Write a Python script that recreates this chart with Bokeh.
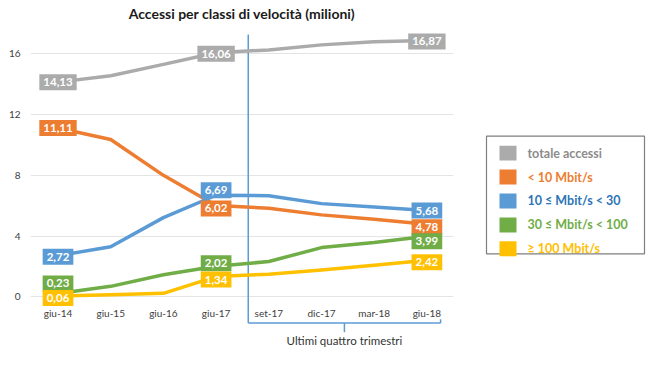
from bokeh.plotting import figure
from bokeh.models import Range1d, FixedTicker, ColumnDataSource
from bokeh.layouts import row
from bokeh.core.properties import value
from bokeh.embed import file_html
from bokeh.resources import INLINE

# ---------------- data ----------------
categories = ["giu-14", "giu-15", "giu-16", "giu-17", "set-17", "dic-17", "mar-18", "giu-18"]
totale = [14.13, 14.55, 15.30, 16.06, 16.25, 16.58, 16.78, 16.87]
lt10 = [11.11, 10.36, 8.00, 6.02, 5.84, 5.40, 5.11, 4.78]
b10_30 = [2.72, 3.30, 5.22, 6.69, 6.66, 6.14, 5.92, 5.68]
b30_100 = [0.23, 0.70, 1.46, 2.02, 2.33, 3.25, 3.58, 3.99]
ge100 = [0.06, 0.15, 0.24, 1.34, 1.50, 1.77, 2.08, 2.42]
y_ticks = [0, 4, 8, 12, 16]
series_names = ["totale accessi", "< 10 Mbit/s", "10 \u2264 Mbit/s  < 30", "30 \u2264 Mbit/s < 100", "\u2265 100 Mbit/s"]
labelled_idx = [0, 3, 7]
bracket_text = "Ultimi quattro trimestri"
title_text = "Accessi per classi di velocit\u00e0 (milioni)"

# ---------------- style ----------------
FONT = "Lato"
line_colors = ["#ABABAB", "#ED7D31", "#5B9BD5", "#70AD47", "#FFC000"]
legend_text_colors = ["#8C8C8C", "#ED7D31", "#2E75B6", "#70AD47", "#FFC000"]
label_offsets = [
    [0, 1, 1],
    [0, 3, 3],
    [1, -5, 0],
    [-10, -3, 5],
    [2, 3, 2],
]
series = [totale, lt10, b10_30, b30_100, ge100]

xs = list(range(len(categories)))

p = figure(width=470, height=360, output_backend="svg", toolbar_location=None,
           x_range=Range1d(-0.522, 7.505), y_range=Range1d(-4.177, 17.92),
           x_axis_location=None, min_border_left=30, min_border_right=17,
           min_border_top=0, min_border_bottom=0, outline_line_color=None)
p.title.text = title_text
p.title.align = "center"
p.title.text_font = FONT
p.title.text_font_size = "14px"
p.title.text_font_style = "bold"
p.title.text_color = "#1a1a1a"
p.title.standoff = 5

p.yaxis.ticker = FixedTicker(ticks=y_ticks)
p.yaxis.axis_line_color = None
p.yaxis.major_tick_line_color = None
p.yaxis.minor_tick_line_color = None
p.yaxis.major_tick_out = 0
p.yaxis.major_tick_in = 0
p.yaxis.minor_tick_out = 0
p.yaxis.major_label_standoff = 10
p.yaxis.major_label_text_font = FONT
p.yaxis.major_label_text_font_size = "10px"
p.yaxis.major_label_text_color = "#404040"
p.xgrid.visible = False
p.ygrid.ticker = FixedTicker(ticks=y_ticks)
p.ygrid.grid_line_color = "#E4E4E4"
p.ygrid.grid_line_width = 1

# bracket / divider
n_years = 4
div_x = n_years - 0.39
end_x = len(categories) - 0.74
mid_x = (div_x + end_x) / 2
p.segment(x0=[div_x], y0=[17.27], x1=[div_x], y1=[-1.705], line_color="#5B9BD5", line_width=1.5)
p.segment(x0=[div_x, mid_x, end_x], y0=[-1.705, -1.705, -1.705], x1=[end_x, mid_x, end_x],
          y1=[-1.705, -2.32, -1.46], line_color="#5B9BD5", line_width=1.5)
p.text(x=[mid_x], y=[-2.87], text=[bracket_text], text_align="center", text_baseline="middle",
       text_font=value(FONT), text_font_size="11.5px", text_color="#333333")

# x category labels
p.text(x=xs, y=[0] * len(xs), text=categories, y_offset=16, text_align="center",
       text_baseline="middle", text_font=value(FONT), text_font_size="10px", text_color="#404040")

# lines
for vals, col in zip(series, line_colors):
    p.line(xs, vals, line_color=col, line_width=3.5, line_join="round", line_cap="round")

# value labels
for vals, col, offs in zip(series, line_colors, label_offsets):
    src = ColumnDataSource(dict(
        x=[xs[i] for i in labelled_idx],
        y=[vals[i] for i in labelled_idx],
        t=[f"{vals[i]:.2f}".replace(".", ",") for i in labelled_idx],
        off=offs,
    ))
    p.text(x="x", y="y", text="t", source=src, y_offset="off", text_align="center",
           text_baseline="middle", text_font=value(FONT), text_font_size="11.5px",
           text_font_style="bold", text_color="white", background_fill_color=col,
           padding=4)

# ---------------- legend figure ----------------
# (frames in a row are aligned with the main plot's frame, which starts below the title)
leg = figure(width=178, height=360, output_backend="svg", toolbar_location=None,
             x_range=Range1d(0, 178), y_range=Range1d(360, 23), title=None,
             x_axis_location=None, y_axis_location=None,
             min_border=0, outline_line_color=None)
leg.xgrid.visible = False
leg.ygrid.visible = False
leg_y = [152 + 24 * i for i in range(len(series_names))]
leg.quad(left=[16], right=[174], top=[135], bottom=[253], fill_color=None,
         line_color="#7F7F7F", line_width=1.2)
leg.rect(x=[37.5] * len(leg_y), y=leg_y, width=17, height=15, fill_color=line_colors, line_color=None)
leg.text(x=[57] * len(leg_y), y=leg_y, text=series_names, text_color=legend_text_colors,
         text_baseline="middle", text_font=value(FONT), text_font_size="12.5px", text_font_style="bold")

layout = row(p, leg)
open("out.html", "w").write(file_html(layout, INLINE))
